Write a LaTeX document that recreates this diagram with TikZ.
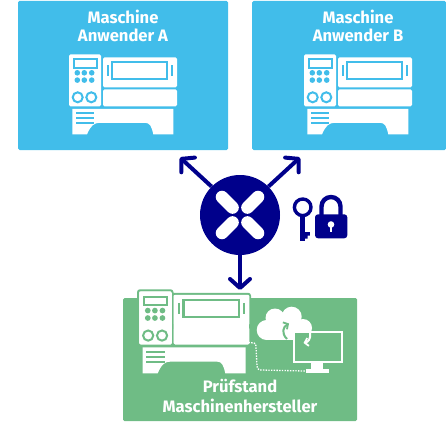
\documentclass[tikz,border=0pt]{standalone}
\usepackage{fontspec}
\setmainfont{Fira Sans}
\usetikzlibrary{arrows.meta,calc}
\definecolor{skyblue}{HTML}{41BDEA}
\definecolor{navyblue}{HTML}{00008B}
\definecolor{leafgreen}{HTML}{6FBC85}
\tikzset{
  boxlabel/.style={text=white,font=\fontsize{16.6}{18.5}\selectfont\bfseries,align=center,inner sep=0pt},
  flowline/.style={draw=navyblue,line width=4pt,-{Straight Barb[length=9pt,width=20pt,line width=4pt,round]}},
  pics/machine/.style={code={
    \fill[white,rounded corners=1.5] (0,0) rectangle (32,52);
    \fill[white,rounded corners=1.5] (34,3) rectangle (108,33);
    \fill[white,rounded corners=1.5] (34,35) rectangle (108,52);
    \fill[white] (3.3,54.5) -- (104.3,54.5) -- (104.3,80) -- (84.3,80) .. controls (82.5,72) and (81,68.5) .. (76,68.5) -- (31,68.5) .. controls (25,68.5) and (22,71) .. (18,80) -- (3.3,80) -- cycle;
    \draw[#1,line width=2pt] (4.5,5) rectangle (27.5,13.5);
    \foreach \x in {8.3,15.3,22.7} \foreach \y in {18.5,25.8} \fill[#1] (\x,\y) circle (2.8);
    \foreach \x in {8.7,22.3} \draw[#1,line width=2pt] (\x,43) circle (5);
    \draw[#1,line width=2.2pt] (43.3,8) rectangle (97.7,25);
    \draw[#1,line width=2pt] (38.7,11) -- (38.7,22);
    \draw[#1,line width=2pt] (102.7,11) -- (102.7,22);
    \foreach \y in {59,64,69} \draw[#1,line width=1.6pt] (7,\y) -- (25,\y);
  }}
}
\begin{document}
\begin{tikzpicture}[x=1pt,y=-1pt]
\useasboundingbox (0,0) rectangle (446,422);
% top boxes
\fill[skyblue,rounded corners=1.5] (18,1) rectangle (228,150);
\fill[skyblue,rounded corners=1.5] (252,1) rectangle (446,150);
\node[boxlabel] (labelA) at (123,26) {Maschine\\Anwender A};
\node[boxlabel] (labelB) at (358,26) {Maschine\\Anwender B};
\pic at (69,54.3) {machine=skyblue};
\pic at (304,54.3) {machine=skyblue};
% test stand
\fill[leafgreen,rounded corners=1.5] (123,298) rectangle (357,421);
\draw[leafgreen,line width=2pt,fill=white,rounded corners=2] (138,290.3) rectangle (172.5,345);
\draw[leafgreen,line width=2pt,fill=white,rounded corners=2] (172.5,293.8) rectangle (250,345);
\pic[scale=1.02] at (139.3,291.7) {machine=leafgreen};
\node[boxlabel,font=\fontsize{16.6}{20}\selectfont\bfseries] (labelC) at (240,396) {Prüfstand\\Maschinenhersteller};
% cloud and monitor
\fill[white] (266.7,330) circle (10) (275,318) circle (9.5) (291.7,316.7) circle (10) (303,328) circle (9);
\fill[white] (266.7,322) rectangle (303,340);
\draw[white,line width=2pt,fill=leafgreen] (294,332) rectangle (341.7,362.3);
\fill[white] (311,362) rectangle (323.3,369.3);
\fill[white] (305.7,369.3) rectangle (329,372.5);
\draw[leafgreen,line width=2pt,-{Straight Barb[length=3.5pt,width=8pt,line width=1.8pt]}] (287,339) .. controls (281,333) and (283,327) .. (289,323.5);
\draw[white,line width=2pt,-{Straight Barb[length=3.5pt,width=8pt,line width=1.8pt]}] (310,333) .. controls (311,339) and (308,342) .. (303.5,343);
\draw[white,line width=1.3pt,dash pattern=on 1.4pt off 1.3pt] (248.5,342.5) -- (254,343) .. controls (256,344) .. (256,347) -- (257,366) .. controls (257.5,369) .. (260,370) -- (305,371);
% hub
\node[circle,fill=navyblue,minimum size=80pt,inner sep=0pt] (hub) at (240,215) {};
\foreach \a in {45,135,225,315}
  \draw[white,line width=12.5pt,line cap=round] ($(hub)+(\a:10.5)$) -- ($(hub)+(\a:25.5)$);
\coordinate (endA) at (180,157.5);
\coordinate (endB) at (300,157.5);
\coordinate (endC) at (240,290);
\draw[flowline] (hub.135) -- (endA);
\draw[flowline] (hub.45) -- (endB);
\draw[flowline] (hub.south) -- (endC);
% key and lock
\draw[navyblue,line width=3.4pt] (302.7,207.3) circle (8.3);
\fill[navyblue] (300.4,216) rectangle (305,240.7);
\fill[navyblue] (305,232) rectangle (309.8,235.5) (305,235.5) rectangle (307.5,238.5);
\draw[navyblue,line width=4.4pt] (321.5,216) -- (321.5,206.5) arc[start angle=180,end angle=360,radius=9.5] -- (340.5,216);
\fill[navyblue,rounded corners=3] (315,214.3) rectangle (347.3,238.3);
\fill[white] (331,224.5) circle (3.3);
\fill[white] (329.6,225) rectangle (332.4,231.5);
\end{tikzpicture}
\end{document}
